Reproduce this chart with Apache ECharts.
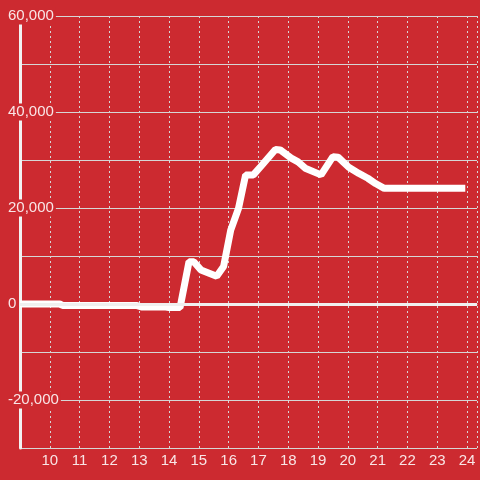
<!DOCTYPE html>
<html>
<head>
<meta charset="utf-8">
<script src="https://cdn.jsdelivr.net/npm/echarts@6/dist/echarts.min.js"></script>
<style>
  html, body { margin: 0; padding: 0; background: #cc2a30; }
  #chart { width: 480px; height: 480px; }
</style>
</head>
<body>
<div id="chart"></div>
<script>
// hour of day (x) and running value (y)
const hours = [9, 10.33, 10.43, 12.9, 13.07, 13.83, 14.0, 14.37, 14.67, 14.83, 15.07, 15.6, 15.83, 16.07, 16.33, 16.57, 16.83, 17.07, 17.57, 17.73, 18.1, 18.33, 18.57, 19.1, 19.5, 19.67, 20.03, 20.37, 20.67, 20.93, 21.22, 23.94];
const values = [0, 0, -300, -300, -600, -600, -750, -750, 8800, 8800, 7100, 5800, 7800, 15400, 19900, 26900, 26900, 28600, 32200, 32100, 30400, 29600, 28300, 26900, 30700, 30600, 28500, 27200, 26200, 25100, 24100, 24100];

const X_MIN = 9;
const X_MAX = 24.333;
const Y_MIN = -30000;
const Y_MAX = 60000;

const BG = "#cc2a30";
const LABEL = "rgba(255,255,255,0.88)";
const GRID = "#d6d6d6";
const FONT = "Liberation Sans";

const chart = echarts.init(document.getElementById("chart"));

chart.setOption({
  animation: false,
  backgroundColor: BG,
  grid: { left: 20, right: 0, top: 16, bottom: 32 },
  xAxis: {
    type: "value",
    min: X_MIN,
    max: X_MAX,
    interval: 1,
    axisLine: { show: true, lineStyle: { color: GRID, width: 1 } },
    axisTick: { show: false },
    axisLabel: {
      color: LABEL,
      fontFamily: FONT,
      fontSize: 15,
      margin: 5,
      // only whole hours after the first one get a label
      formatter: (v) => (Number.isInteger(v) && v > X_MIN ? String(v) : ""),
    },
    splitLine: { show: true, lineStyle: { color: GRID, width: 1, type: [2, 3] } },
  },
  yAxis: {
    type: "value",
    min: Y_MIN,
    max: Y_MAX,
    interval: 10000,
    z: 1,
    axisLine: { show: true, lineStyle: { color: "#f2f2f2", width: 3 } },
    axisTick: { show: false },
    axisLabel: {
      color: LABEL,
      fontFamily: FONT,
      fontSize: 15,
      align: "left",
      margin: 14,
      backgroundColor: BG,
      padding: [1, 2],
      formatter: (v) => (v % 20000 === 0 ? v.toLocaleString("en-US") : ""),
    },
    splitLine: { show: true, lineStyle: { color: GRID, width: 1 } },
  },
  series: [
    {
      type: "line",
      data: hours.map((h, i) => [h, values[i]]),
      showSymbol: false,
      symbol: "none",
      lineStyle: { color: "#ffffff", width: 7, cap: "butt" },
      markLine: {
        silent: true,
        symbol: ["none", "none"],
        label: { show: false },
        lineStyle: { color: "#f0f0f0", width: 3, type: "solid" },
        data: [{ yAxis: 0 }],
      },
    },
  ],
});
</script>
</body>
</html>
